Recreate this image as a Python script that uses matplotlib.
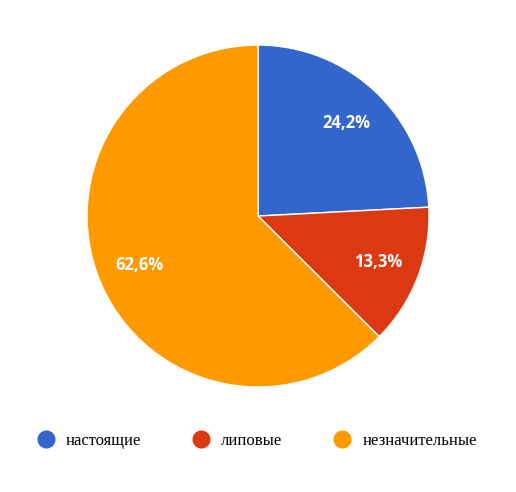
import matplotlib
matplotlib.use("Agg")
import matplotlib.pyplot as plt
from matplotlib.lines import Line2D

labels = ["настоящие", "липовые", "незначительные"]
values = [24.2, 13.3, 62.6]
colors = ["#3366cc", "#dc3912", "#ff9900"]

fig = plt.figure(figsize=(5.16, 4.92), dpi=100)
ax = fig.add_axes([0.1686, 0.2134, 0.663, 0.695])
wedges, texts, autotexts = ax.pie(
    values, colors=colors, startangle=90, counterclock=False,
    autopct="%1.1f", pctdistance=0.75,
    wedgeprops={"edgecolor": "white", "linewidth": 1},
    textprops={"color": "white", "fontsize": 12, "fontweight": "bold",
               "family": "Open Sans"})
# show the values as given (they sum to 100.1, so no renormalised percent)
for t, v in zip(autotexts, values):
    t.set_text(f"{v:.1f}".replace(".", ",") + "%")
ax.set_xlim(-1, 1)
ax.set_ylim(-1, 1)
ax.set_aspect("equal")

handles = [Line2D([], [], marker="o", linestyle="", markersize=12,
                  markerfacecolor=c, markeredgecolor=c) for c in colors]
fig.legend(handles, labels, loc="center", bbox_to_anchor=(0.49, 0.104),
           ncol=3, frameon=False, handletextpad=0.2, columnspacing=2.6,
           prop={"family": "Liberation Serif", "size": 12})

fig.savefig("out.png", dpi=100)
